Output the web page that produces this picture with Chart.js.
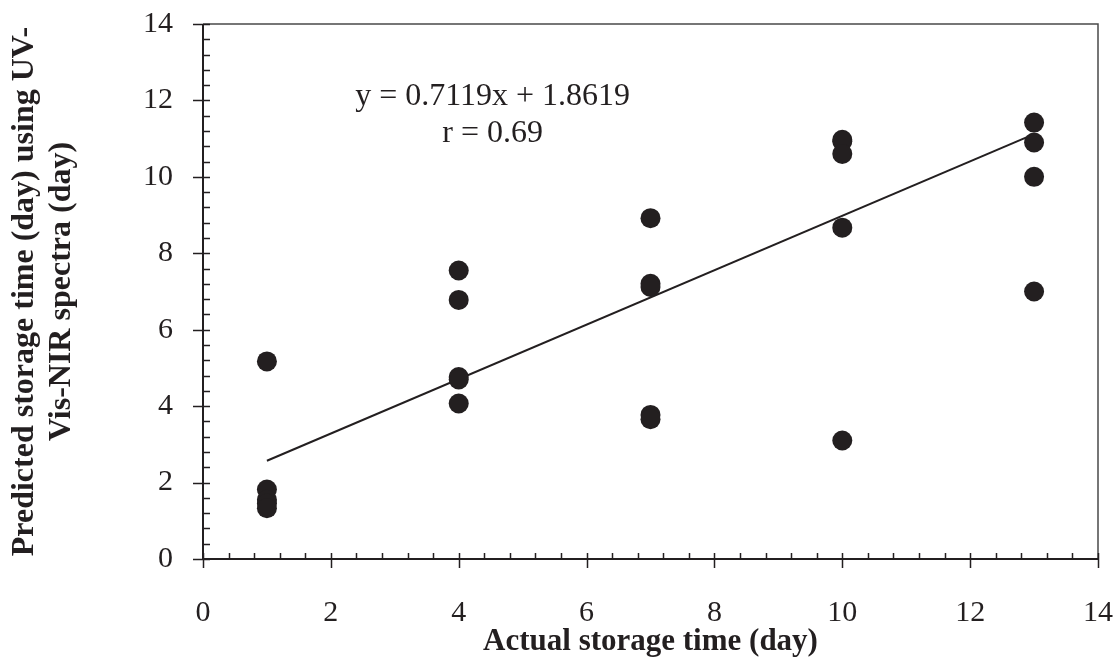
<!DOCTYPE html>
<html>
<head>
<meta charset="utf-8">
<script src="https://cdn.jsdelivr.net/npm/chart.js@4.4.1/dist/chart.umd.min.js"></script>
<style>
  html, body { margin: 0; padding: 0; background: #fff; }
  #wrap { width: 1120px; height: 658px; }
</style>
</head>
<body>
<div id="wrap"><canvas id="chart1" width="1120" height="658"></canvas></div>
<script>
// measured vs predicted storage time (days)
const actualDays    = [1, 1, 1, 1, 1,  4, 4, 4, 4, 4,  7, 7, 7, 7, 7,  10, 10, 10, 10, 10,  13, 13, 13, 13];
const predictedDays = [5.17, 1.82, 1.55, 1.45, 1.33,
                       7.55, 6.78, 4.76, 4.70, 4.07,
                       8.92, 7.20, 7.12, 3.77, 3.66,
                       10.97, 10.93, 10.60, 8.67, 3.10,
                       11.42, 10.90, 10.00, 7.00];
// trend line end points
const trendX = [1, 13];
const trendY = [2.57, 11.12];

const xTicks = [0, 2, 4, 6, 8, 10, 12, 14];
const yTicks = [0, 2, 4, 6, 8, 10, 12, 14];
const equationLines = ['y = 0.7119x + 1.8619', 'r = 0.69'];
const ink = '#231f20';

// axis lines, crossing major ticks, inner minor ticks, frame, equation text
const decorations = {
    id: 'decorations',
    afterDatasetsDraw(chart) {
        const ctx = chart.ctx;
        const a = chart.chartArea;
        const xs = chart.scales.x, ys = chart.scales.y;
        ctx.save();
        // thin top / right frame
        ctx.strokeStyle = '#4a4a4a';
        ctx.lineWidth = 1.5;
        ctx.beginPath();
        ctx.moveTo(a.left, a.top);
        ctx.lineTo(a.right, a.top);
        ctx.lineTo(a.right, a.bottom);
        ctx.stroke();

        ctx.strokeStyle = ink;
        ctx.lineWidth = 2;
        ctx.beginPath();
        ctx.moveTo(a.left, a.top);
        ctx.lineTo(a.left, a.bottom);
        ctx.lineTo(a.right, a.bottom);
        ctx.stroke();

        ctx.lineWidth = 1.5;
        ctx.beginPath();
        for (let v = 0; v <= 14.001; v += 0.4) {
            const major = Math.abs(v / 2 - Math.round(v / 2)) < 0.01;
            const px = Math.round(xs.getPixelForValue(v)) + 0.5;
            ctx.moveTo(px, a.bottom - 6);
            ctx.lineTo(px, major ? a.bottom + 9 : a.bottom);
            const py = Math.round(ys.getPixelForValue(v)) + 0.5;
            ctx.moveTo(major ? a.left - 10 : a.left, py);
            ctx.lineTo(a.left + 7, py);
        }
        ctx.stroke();

        // equation label
        ctx.fillStyle = ink;
        ctx.font = '32px "Liberation Serif"';
        ctx.textAlign = 'center';
        ctx.textBaseline = 'middle';
        const cx = xs.getPixelForValue(4.53);
        ctx.fillText(equationLines[0], cx, ys.getPixelForValue(12.1));
        ctx.fillText(equationLines[1], cx, ys.getPixelForValue(11.13));
        ctx.restore();
    }
};

const ctx1 = document.getElementById('chart1').getContext('2d');
new Chart(ctx1, {
    type: 'scatter',
    data: {
        datasets: [
            {
                label: 'Trend',
                type: 'line',
                data: trendX.map((x, i) => ({ x: x, y: trendY[i] })),
                borderColor: ink,
                borderWidth: 2,
                pointRadius: 0,
                fill: false,
                order: 2
            },
            {
                label: 'Samples',
                data: actualDays.map((x, i) => ({ x: x, y: predictedDays[i] })),
                backgroundColor: ink,
                borderColor: ink,
                borderWidth: 0,
                pointRadius: 10,
                pointHoverRadius: 10,
                order: 1
            }
        ]
    },
    options: {
        responsive: false,
        animation: false,
        events: [],
        layout: { padding: { top: 24, right: 22, left: 0, bottom: 0 } },
        plugins: { legend: { display: false }, tooltip: { enabled: false } },
        scales: {
            x: {
                type: 'linear',
                min: 0, max: 14,
                afterBuildTicks: s => { s.ticks = xTicks.map(v => ({ value: v })); },
                afterFit: s => { s.height = 99; s.paddingLeft = 0; s.paddingRight = 0; },
                grid: { display: false },
                border: { display: false },
                ticks: {
                    color: ink,
                    font: { family: 'Liberation Serif', size: 30 },
                    padding: 28,
                    maxRotation: 0
                },
                title: {
                    display: true,
                    text: 'Actual storage time (day)',
                    color: ink,
                    font: { family: 'Liberation Serif', size: 31, weight: 'bold' },
                    padding: { top: 0, bottom: -3 }
                }
            },
            y: {
                type: 'linear',
                min: 0, max: 14,
                afterBuildTicks: s => { s.ticks = yTicks.map(v => ({ value: v })); },
                afterFit: s => { s.width = 203; s.paddingTop = 0; s.paddingBottom = 0; },
                grid: { display: false },
                border: { display: false },
                ticks: {
                    color: ink,
                    font: { family: 'Liberation Serif', size: 30 },
                    padding: 22
                },
                title: {
                    display: true,
                    text: ['Predicted storage time (day) using UV-', 'Vis-NIR spectra (day)'],
                    color: ink,
                    font: { family: 'Liberation Serif', size: 32, weight: 'bold', lineHeight: 1.16 },
                    padding: { top: 6, bottom: 0 }
                }
            }
        }
    },
    plugins: [decorations]
});
</script>
</body>
</html>
